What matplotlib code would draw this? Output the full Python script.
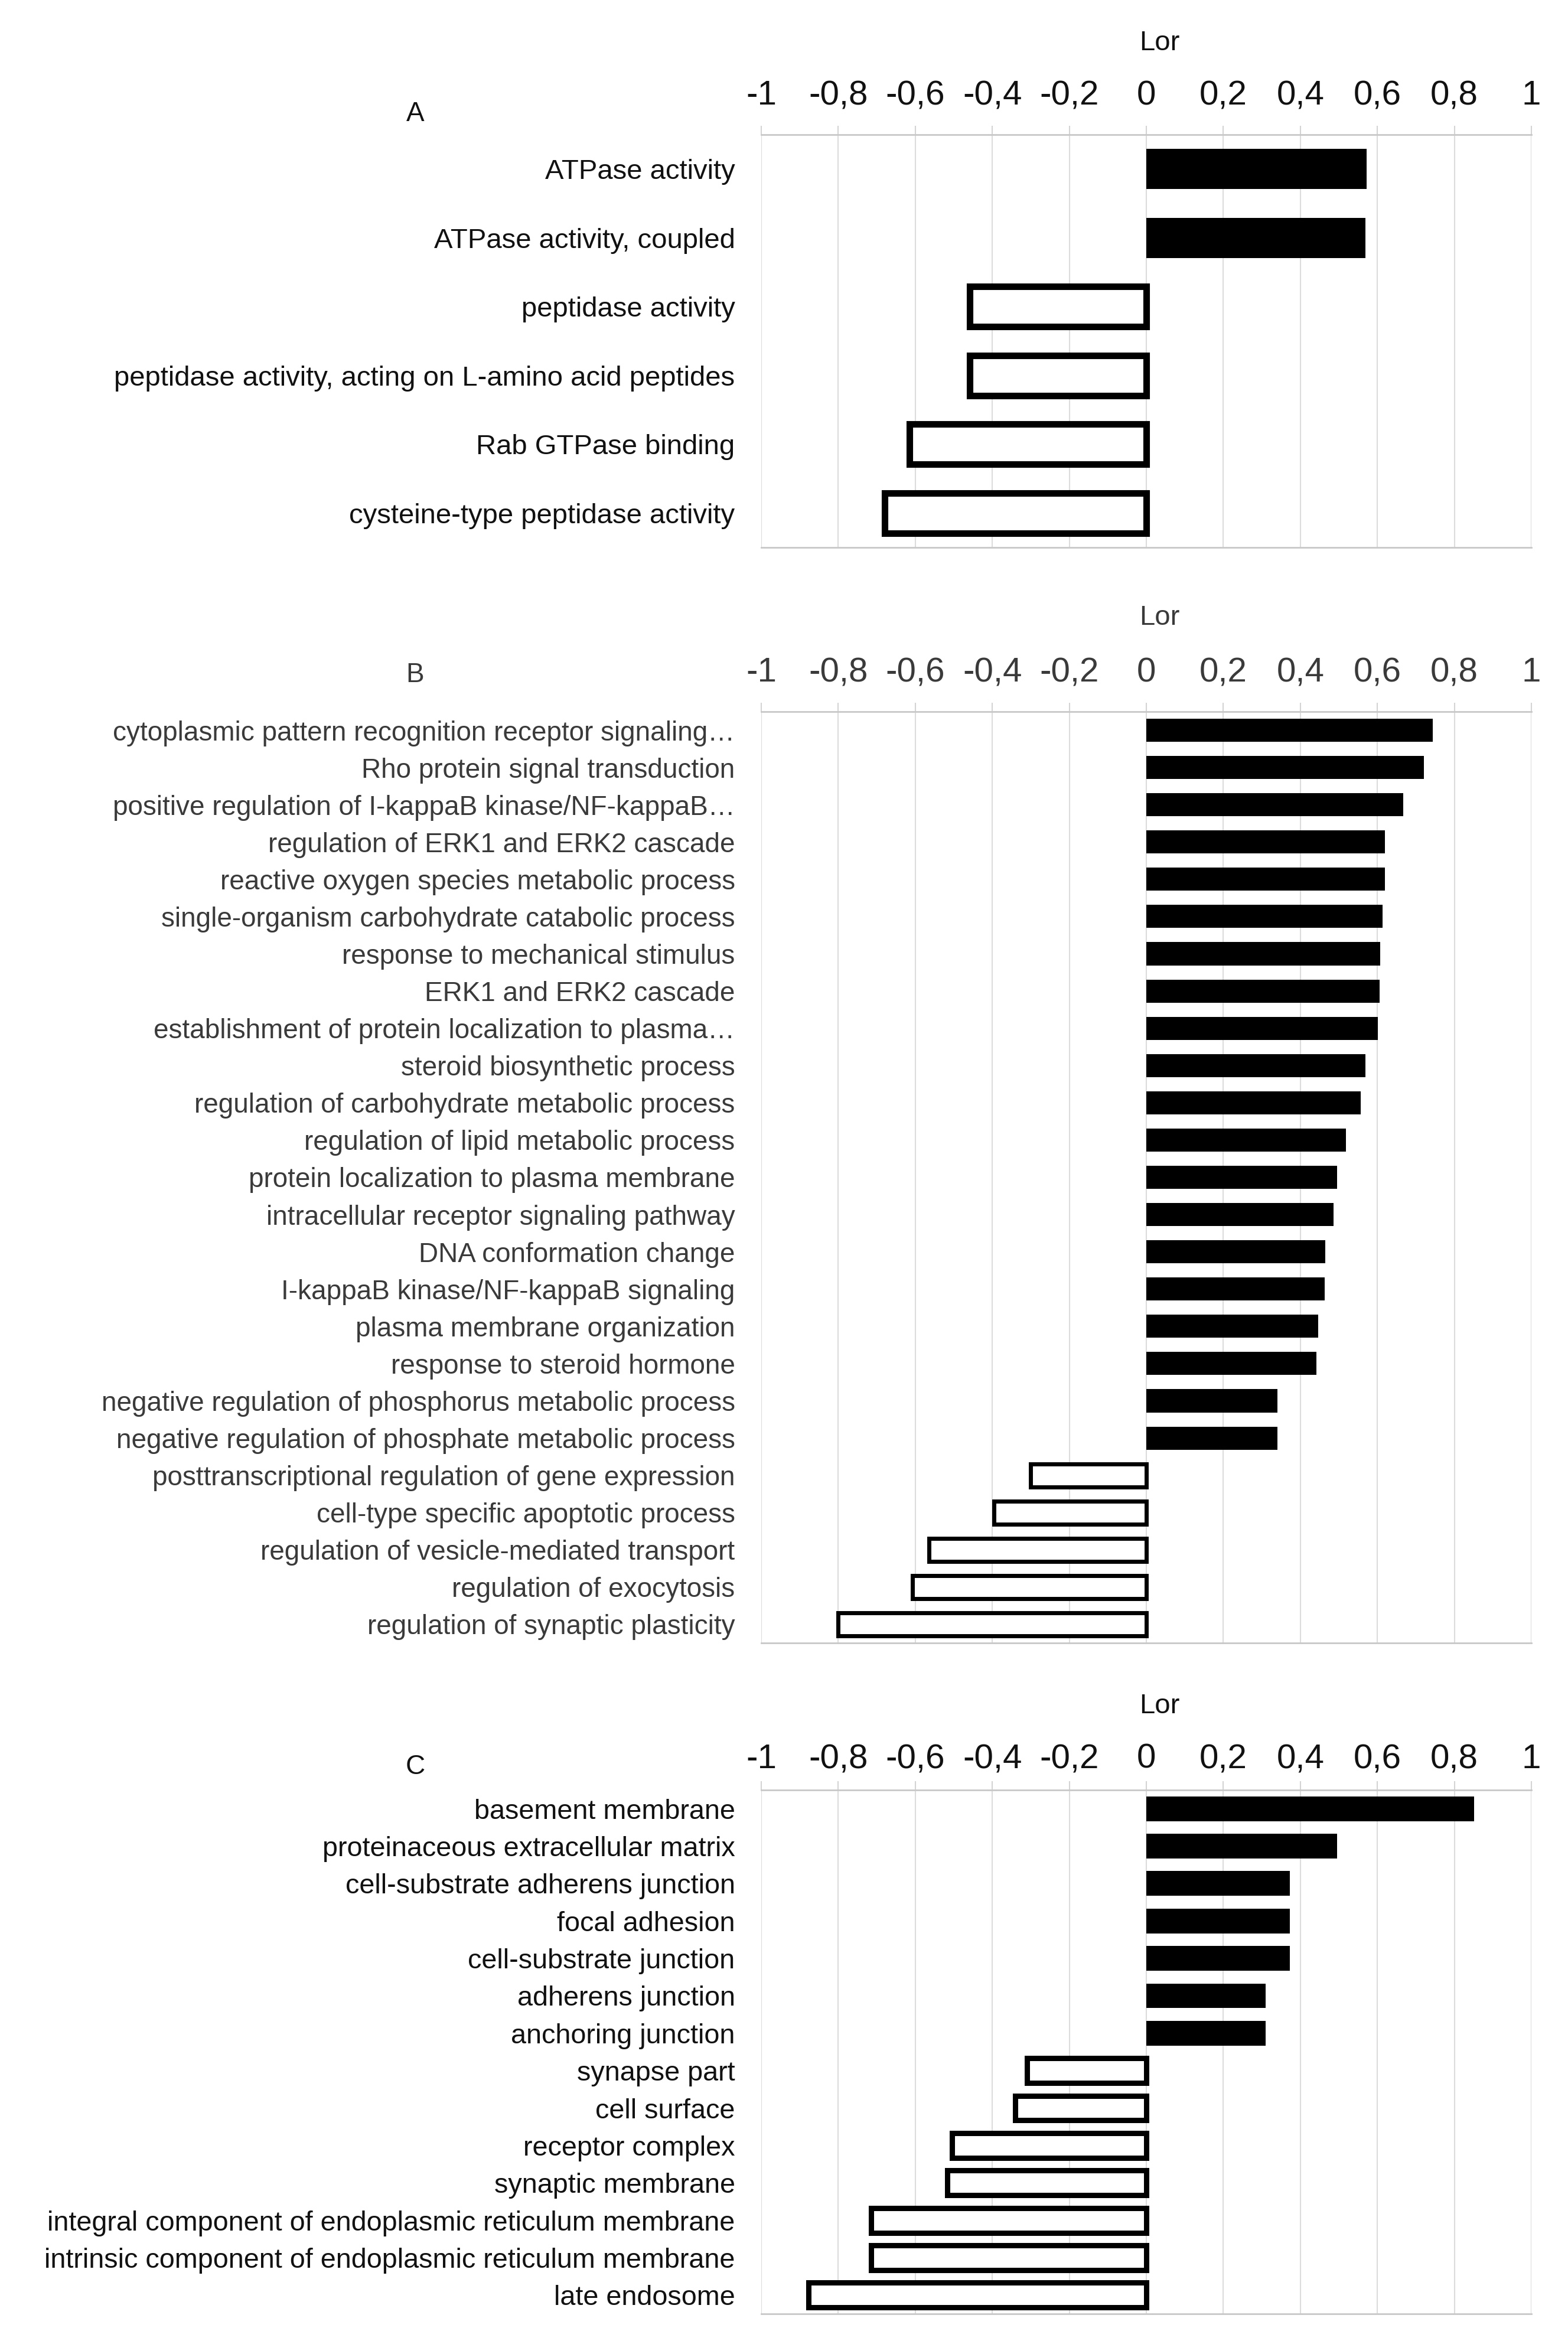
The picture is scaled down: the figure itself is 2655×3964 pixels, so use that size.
import numpy as np
import matplotlib.pyplot as plt

plt.rcParams['font.family'] = ['Liberation Sans', 'DejaVu Sans']

# panel A - molecular function
A_TERMS = [
    'ATPase activity',
    'ATPase activity, coupled',
    'peptidase activity',
    'peptidase activity, acting on L-amino acid peptides',
    'Rab GTPase binding',
    'cysteine-type peptidase activity',
]
A_LOR = [0.572, 0.569, -0.458, -0.458, -0.615, -0.68]

# panel B - biological process
B_TERMS = [
    'cytoplasmic pattern recognition receptor signaling…',
    'Rho protein signal transduction',
    'positive regulation of I-kappaB kinase/NF-kappaB…',
    'regulation of ERK1 and ERK2 cascade',
    'reactive oxygen species metabolic process',
    'single-organism carbohydrate catabolic process',
    'response to mechanical stimulus',
    'ERK1 and ERK2 cascade',
    'establishment of protein localization to plasma…',
    'steroid biosynthetic process',
    'regulation of carbohydrate metabolic process',
    'regulation of lipid metabolic process',
    'protein localization to plasma membrane',
    'intracellular receptor signaling pathway',
    'DNA conformation change',
    'I-kappaB kinase/NF-kappaB signaling',
    'plasma membrane organization',
    'response to steroid hormone',
    'negative regulation of phosphorus metabolic process',
    'negative regulation of phosphate metabolic process',
    'posttranscriptional regulation of gene expression',
    'cell-type specific apoptotic process',
    'regulation of vesicle-mediated transport',
    'regulation of exocytosis',
    'regulation of synaptic plasticity',
]
B_LOR = [0.744, 0.721, 0.667, 0.62, 0.619, 0.614, 0.607, 0.606, 0.601,
         0.569, 0.557, 0.519, 0.496, 0.486, 0.464, 0.463, 0.446, 0.441,
         0.34, 0.34, -0.30, -0.395, -0.565, -0.608, -0.80]

# panel C - cellular component
C_TERMS = [
    'basement membrane',
    'proteinaceous extracellular matrix',
    'cell-substrate adherens junction',
    'focal adhesion',
    'cell-substrate junction',
    'adherens junction',
    'anchoring junction',
    'synapse part',
    'cell surface',
    'receptor complex',
    'synaptic membrane',
    'integral component of endoplasmic reticulum membrane',
    'intrinsic component of endoplasmic reticulum membrane',
    'late endosome',
]
C_LOR = [0.851, 0.495, 0.372, 0.372, 0.372, 0.31, 0.31,
         -0.31, -0.34, -0.505, -0.517, -0.715, -0.715, -0.877]

TICKS = [-1, -0.8, -0.6, -0.4, -0.2, 0, 0.2, 0.4, 0.6, 0.8, 1]
TICK_LABELS = ['-1', '-0,8', '-0,6', '-0,4', '-0,2', '0', '0,2', '0,4', '0,6', '0,8', '1']

W, H = 2655, 3964


def draw_panel(fig, top_px, bottom_px, letter, letter_y, lor_y, terms, lor,
               bar_h, edge_lw, text_color, tick_pad, label_size):
    left_px, right_px = 1289, 2593
    ax = fig.add_axes([left_px / W, 1 - bottom_px / H,
                       (right_px - left_px) / W, (bottom_px - top_px) / H])
    y = np.arange(len(terms))
    lor = np.asarray(lor)
    pos = lor > 0
    ax.barh(y[pos], lor[pos], height=bar_h, color='black', linewidth=0, zorder=3)
    ax.barh(y[~pos], lor[~pos], height=bar_h, color='white',
            edgecolor='black', linewidth=edge_lw, zorder=3)

    ax.set_xlim(-1, 1)
    ax.set_ylim(len(terms) - 0.5, -0.5)
    ax.xaxis.tick_top()
    ax.set_xticks(TICKS, TICK_LABELS)
    ax.tick_params(axis='x', length=11, width=1.5, color='#d4d4d4',
                   pad=tick_pad, labelsize=42, labelcolor=text_color)
    ax.set_yticks(y, terms)
    ax.tick_params(axis='y', length=0, pad=32, labelsize=label_size,
                   labelcolor=text_color)

    ax.grid(axis='x', color='#dcdcdc', linewidth=1.5)
    ax.set_axisbelow(True)
    for s in ['left', 'right']:
        ax.spines[s].set_visible(False)
    for s in ['top', 'bottom']:
        ax.spines[s].set_color('#c8c8c8')
        ax.spines[s].set_linewidth(2)

    fig.text(1963 / W, 1 - lor_y / H, 'Lor', fontsize=34, color=text_color,
             ha='center', va='center')
    fig.text(703 / W, 1 - letter_y / H, letter, fontsize=33, color=text_color,
             ha='center', va='center')
    return ax


fig = plt.figure(figsize=(W / 100, H / 100), dpi=100)

draw_panel(fig, 228, 927, 'A', 193, 73, A_TERMS, A_LOR,
           bar_h=0.58, edge_lw=8, text_color='#111111', tick_pad=17,
           label_size=34)
draw_panel(fig, 1205, 2782, 'B', 1143, 1046, B_TERMS, B_LOR,
           bar_h=0.62, edge_lw=5, text_color='#3a3a3a', tick_pad=17,
           label_size=33)
draw_panel(fig, 3031, 3918, 'C', 2992, 2889, C_TERMS, C_LOR,
           bar_h=0.66, edge_lw=6.5, text_color='#111111', tick_pad=7,
           label_size=33.7)

fig.savefig('out.png', dpi=100, facecolor='white')
